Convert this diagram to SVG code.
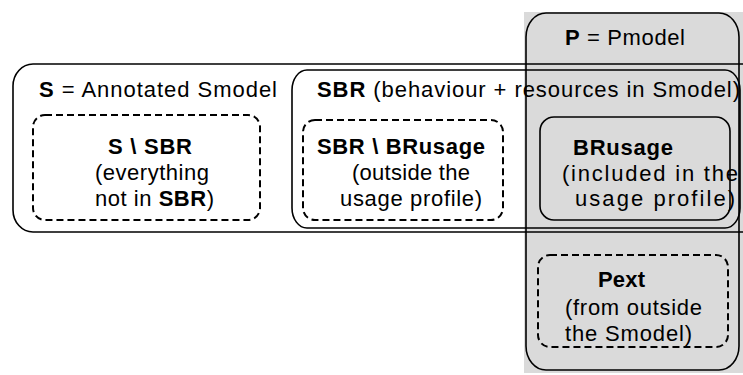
<svg xmlns="http://www.w3.org/2000/svg" width="743" height="375" viewBox="0 0 743 375">
<style>
text{font-family:"Liberation Sans",Arial,sans-serif;font-size:22px;fill:#000}
.b{font-weight:bold}
.solid{fill:none;stroke:#000;stroke-width:1.6}
.dash{fill:none;stroke:#000;stroke-width:2;stroke-dasharray:7 4}
</style>
<rect x="0" y="0" width="743" height="375" fill="#fff"/>
<g id="P">
<rect x="524" y="12" width="219" height="361" fill="#dadada"/>
<rect class="solid" x="526" y="13" width="213" height="357" rx="20" ry="24"/>
<text x="565" y="45" textLength="120" lengthAdjust="spacing"><tspan class="b">P</tspan> = Pmodel</text>
</g>
<g id="S">
<rect class="solid" x="13" y="64" width="760" height="168" rx="20" ry="22"/>
<text x="39" y="97" textLength="238" lengthAdjust="spacing"><tspan class="b">S</tspan> = Annotated Smodel</text>
</g>
<g id="SBR">
<rect class="solid" x="292" y="70" width="448" height="158" rx="15" ry="20"/>
<text x="317" y="97" textLength="423" lengthAdjust="spacing"><tspan class="b">SBR</tspan> (behaviour + resources in Smodel)</text>
</g>
<g id="S_minus_SBR">
<rect class="dash" x="33" y="115" width="227" height="105" rx="12"/>
<text class="b" x="108" y="154" textLength="84" lengthAdjust="spacing">S \ SBR</text>
<text x="95" y="180" textLength="114" lengthAdjust="spacing">(everything</text>
<text x="95" y="206" textLength="119" lengthAdjust="spacing">not in <tspan class="b">SBR</tspan>)</text>
</g>
<g id="SBR_minus_BRusage">
<rect class="dash" x="303" y="120" width="200" height="100" rx="12"/>
<text class="b" x="317" y="154" textLength="168" lengthAdjust="spacing">SBR \ BRusage</text>
<text x="352" y="180" textLength="118" lengthAdjust="spacing">(outside the</text>
<text x="340" y="206" textLength="142" lengthAdjust="spacing">usage profile)</text>
</g>
<g id="BRusage">
<rect class="solid" x="540" y="117" width="190" height="103" rx="14"/>
<text class="b" x="573" y="155" textLength="100" lengthAdjust="spacing">BRusage</text>
<text x="562" y="181" textLength="176" lengthAdjust="spacing">(included in the</text>
<text x="575" y="206" textLength="160" lengthAdjust="spacing">usage profile)</text>
</g>
<g id="Pext">
<rect class="dash" x="538" y="255" width="190" height="92" rx="12"/>
<text class="b" x="598" y="287" textLength="47" lengthAdjust="spacing">Pext</text>
<text x="565" y="315" textLength="137" lengthAdjust="spacing">(from outside</text>
<text x="565" y="341" textLength="127" lengthAdjust="spacing">the Smodel)</text>
</g>
<g id="connectors"></g>
</svg>
